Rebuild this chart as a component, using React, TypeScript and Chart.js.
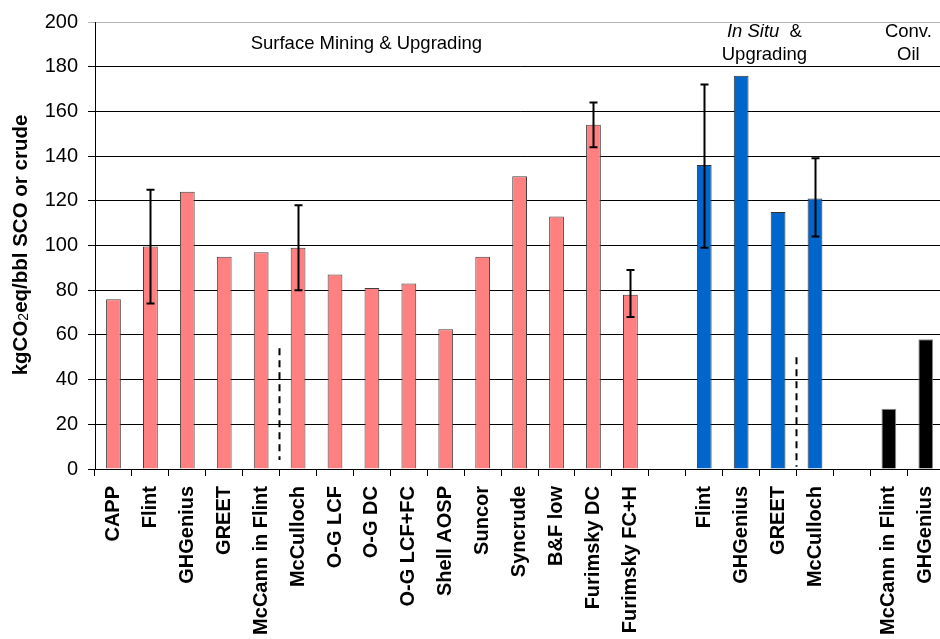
import { useEffect, useRef } from 'react';
import { Chart, registerables } from 'chart.js';

Chart.register(...registerables);

// ---- data ----
const surfaceLabels = ['CAPP', 'Flint', 'GHGenius', 'GREET', 'McCann in Flint', 'McCulloch', 'O-G LCF', 'O-G DC', 'O-G LCF+FC', 'Shell AOSP', 'Suncor', 'Syncrude', 'B&F low', 'Furimsky DC', 'Furimsky FC+H'];
const surfaceValues = [76, 99.5, 124, 95, 97, 99, 87, 81, 83, 62.5, 95, 131, 113, 154, 78];
const surfaceErrLow = [null, 74, null, null, null, 80, null, null, null, null, null, null, null, 144, 68];
const surfaceErrHigh = [null, 125, null, null, null, 118, null, null, null, null, null, null, null, 164, 89];

const inSituLabels = ['Flint', 'GHGenius', 'GREET', 'McCulloch'];
const inSituValues = [136, 176, 115, 121];
const inSituErrLow = [99, null, null, 104];
const inSituErrHigh = [172, null, null, 139];

const convLabels = ['McCann in Flint', 'GHGenius'];
const convValues = [27, 58];

const yTicks = [0, 20, 40, 60, 80, 100, 120, 140, 160, 180, 200];

// dashed separators: [low, high] values
const dashSurface = [4, 54];
const dashInSitu = [1, 50];

const yTitle = ['kgCO', '2', 'eq/bbl SCO or crude'];

// ---- assembled ----
const categories = [...surfaceLabels, '', ...inSituLabels, '', ...convLabels];
const values = [...surfaceValues, null, ...inSituValues, null, ...convValues];
const errLow = [...surfaceErrLow, null, ...inSituErrLow, null, null, null];
const errHigh = [...surfaceErrHigh, null, ...inSituErrHigh, null, null, null];

const SALMON = '#FF8080';
const BLUE = '#0066CC';
const BLACK = '#000000';
const colors = [
  ...surfaceValues.map(() => SALMON), 'rgba(0,0,0,0)',
  ...inSituValues.map(() => BLUE), 'rgba(0,0,0,0)',
  ...convValues.map(() => BLACK),
];
const borders = [
  ...surfaceValues.map(() => '#404040'), 'rgba(0,0,0,0)',
  ...inSituValues.map(() => '#303030'), 'rgba(0,0,0,0)',
  ...convValues.map(() => '#8a8a8a'),
];

const SANS = '"Liberation Sans", Arial, sans-serif';

const overlayPlugin = {
  id: 'overlay',
  afterDatasetsDraw(chart: any) {
    const { ctx, scales } = chart;
    const x = scales.x;
    const y = scales.y;
    const meta = chart.getDatasetMeta(0);
    ctx.save();
    // error bars
    ctx.strokeStyle = '#000';
    ctx.lineWidth = 2;
    for (let i = 0; i < categories.length; i++) {
      const lo = errLow[i];
      const hi = errHigh[i];
      if (lo == null || hi == null) continue;
      const px = Math.round(meta.data[i].x) + 0.5;
      const yl = y.getPixelForValue(lo);
      const yh = y.getPixelForValue(hi);
      ctx.beginPath();
      ctx.moveTo(px, yl);
      ctx.lineTo(px, yh);
      ctx.moveTo(px - 4, yl);
      ctx.lineTo(px + 4, yl);
      ctx.moveTo(px - 4, yh);
      ctx.lineTo(px + 4, yh);
      ctx.stroke();
    }
    // dashed separators
    ctx.setLineDash([7, 5]);
    const drawDash = (between: number, range: number[]) => {
      const px = Math.round((x.getPixelForValue(between) + x.getPixelForValue(between + 1)) / 2) - 0.5;
      ctx.beginPath();
      ctx.moveTo(px, y.getPixelForValue(range[1]));
      ctx.lineTo(px, y.getPixelForValue(range[0]));
      ctx.stroke();
    };
    drawDash(4, dashSurface);
    drawDash(18, dashInSitu);
    ctx.setLineDash([]);

    // group labels
    ctx.fillStyle = '#000';
    ctx.textBaseline = 'middle';
    const normal = `18.5px ${SANS}`;
    const italic = `italic 18.5px ${SANS}`;
    const centerText = (parts: [string, string][], cx: number, cy: number) => {
      let total = 0;
      for (const [t, f] of parts) { ctx.font = f; total += ctx.measureText(t).width; }
      let sx = cx - total / 2;
      ctx.textAlign = 'left';
      for (const [t, f] of parts) { ctx.font = f; ctx.fillText(t, sx, cy); sx += ctx.measureText(t).width; }
    };
    const posAt = (idx: number) => {
      const a = x.getPixelForValue(Math.floor(idx));
      const b = x.getPixelForValue(Math.floor(idx) + 1);
      return a + (b - a) * (idx - Math.floor(idx));
    };
    centerText([['Surface Mining & Upgrading', normal]], posAt(6.85), 44);
    centerText([['In Situ', italic], ['  &', normal]], posAt(17.63), 32);
    centerText([['Upgrading', normal]], posAt(17.63), 55);
    centerText([['Conv.', normal]], posAt(21.53), 32);
    centerText([['Oil', normal]], posAt(21.53), 55);

    // y axis title with subscript
    ctx.translate(21, 245);
    ctx.rotate(-Math.PI / 2);
    const big = `bold 20.5px ${SANS}`;
    const small = `14px ${SANS}`;
    ctx.font = big; const w0 = ctx.measureText(yTitle[0]).width;
    ctx.font = small; const w1 = ctx.measureText(yTitle[1]).width;
    ctx.font = big; const w2 = ctx.measureText(yTitle[2]).width;
    let sx = -(w0 + w1 + w2) / 2;
    ctx.textAlign = 'left';
    ctx.font = big; ctx.fillText(yTitle[0], sx, 0); sx += w0;
    ctx.font = small; ctx.fillText(yTitle[1], sx, 3); sx += w1;
    ctx.font = big; ctx.fillText(yTitle[2], sx, 0);
    ctx.restore();
  },
};

export default function App() {
  const ref = useRef<HTMLCanvasElement | null>(null);
  useEffect(() => {
    if (!ref.current) return;
    const chart = new Chart(ref.current, {
      type: 'bar',
      data: {
        labels: categories,
        datasets: [{
          data: values as any,
          backgroundColor: colors,
          borderColor: borders,
          borderWidth: 1,
          barPercentage: 0.4,
          categoryPercentage: 1,
        }],
      },
      options: {
        animation: false,
        responsive: true,
        maintainAspectRatio: false,
        layout: { padding: { top: 21, right: 11, left: 0, bottom: 0 } },
        plugins: { legend: { display: false }, tooltip: { enabled: false }, title: { display: false } },
        scales: {
          x: {
            offset: true,
            grid: { display: true, drawOnChartArea: false, drawTicks: true, tickLength: 7, color: '#000', offset: true },
            border: { display: true, color: '#000', width: 1 },
            ticks: {
              autoSkip: false, maxRotation: 90, minRotation: 90, padding: 10,
              color: '#000', font: { family: SANS, size: 20, weight: 'bold' },
            },
            afterFit(scale: any) { scale.height = 170; },
          },
          y: {
            min: 0, max: 200,
            afterBuildTicks(scale: any) { scale.ticks = yTicks.map((v) => ({ value: v })); },
            grid: {
              color: (c: any) => (c.tick && c.tick.value === 200 ? '#b4b4b4' : '#000'),
              lineWidth: 1, tickLength: 7, drawTicks: true,
            },
            border: { display: true, color: '#000', width: 1 },
            ticks: { color: '#000', padding: 10, font: { family: SANS, size: 20 } },
            afterFit(scale: any) { scale.width = 95; },
          },
        },
      },
      plugins: [overlayPlugin],
    });
    return () => chart.destroy();
  }, []);
  return (
    <div style={{ position: 'fixed', left: 0, top: 0, width: 940, height: 639, overflow: 'hidden', background: '#fff' }}>
      <div style={{ position: 'relative', width: 960, height: 639 }}>
        <canvas ref={ref} />
      </div>
    </div>
  );
}
